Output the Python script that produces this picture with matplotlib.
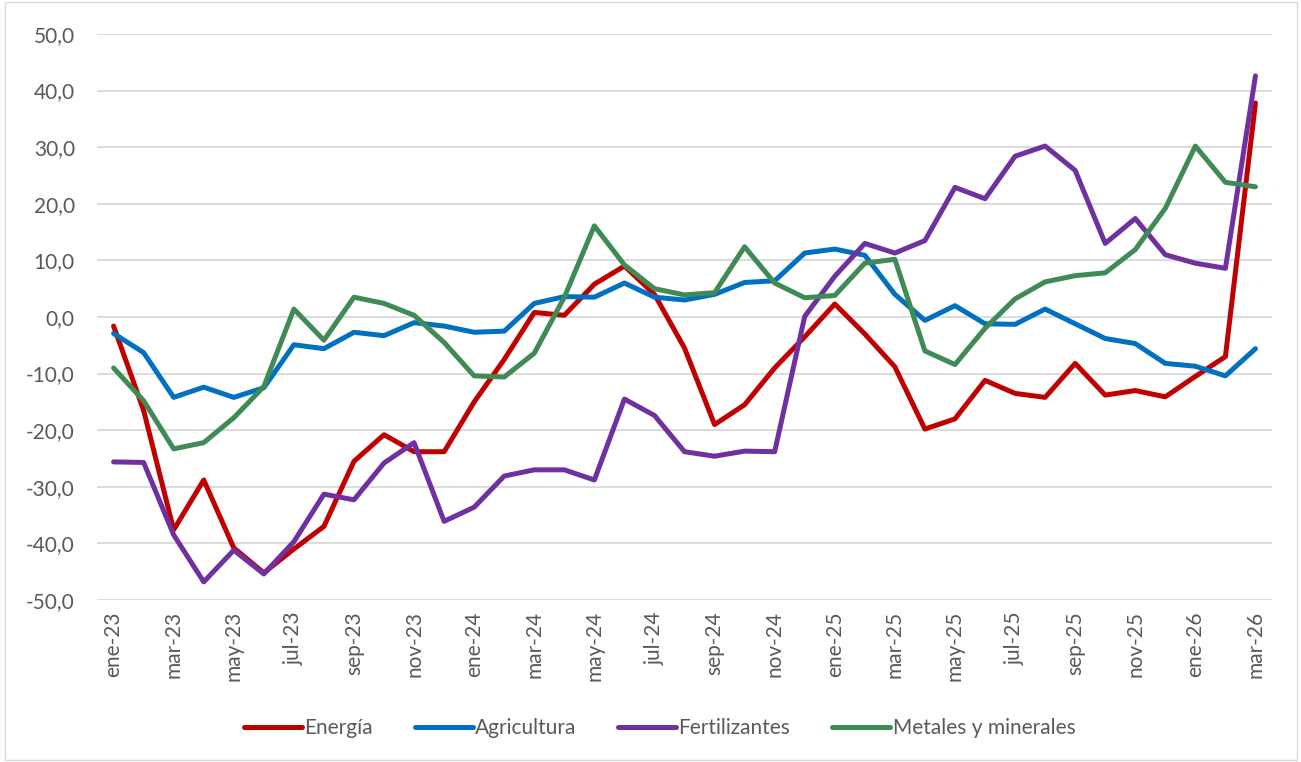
import matplotlib
matplotlib.use("Agg")
import matplotlib.pyplot as plt
from matplotlib.patches import Rectangle

meses = ["ene", "feb", "mar", "abr", "may", "jun", "jul", "ago", "sep", "oct", "nov", "dic"]
labels = [f"{m}-{y}" for y in ("23", "24", "25") for m in meses] + ["ene-26", "feb-26", "mar-26"]

energia = [-1.6, -16.5, -37.6, -28.8, -40.8, -45.2, -41.0, -37.0, -25.5, -20.8, -23.8, -23.8,
           -15.0, -7.5, 0.8, 0.3, 5.8, 9.0, 4.0, -5.5, -19.0, -15.5, -9.0, -3.5,
           2.3, -3.0, -8.8, -19.8, -18.0, -11.2, -13.5, -14.2, -8.2, -13.8, -13.0, -14.1,
           -10.5, -7.0, 37.8]
agricultura = [-2.9, -6.3, -14.2, -12.4, -14.2, -12.5, -4.9, -5.6, -2.7, -3.3, -1.0, -1.6,
               -2.7, -2.5, 2.4, 3.6, 3.5, 6.0, 3.5, 3.0, 4.0, 6.1, 6.4, 11.3,
               12.0, 10.9, 4.0, -0.6, 2.0, -1.2, -1.3, 1.4, -1.2, -3.8, -4.7, -8.2,
               -8.7, -10.4, -5.6]
fertilizantes = [-25.6, -25.7, -38.5, -46.8, -41.2, -45.4, -39.7, -31.3, -32.3, -25.8, -22.2, -36.1,
                 -33.6, -28.1, -27.0, -27.0, -28.8, -14.5, -17.4, -23.8, -24.6, -23.7, -23.8, 0.1,
                 7.2, 13.0, 11.3, 13.5, 22.9, 20.9, 28.4, 30.2, 25.9, 13.0, 17.4, 11.0,
                 9.5, 8.6, 42.6]
metales = [-9.0, -14.8, -23.3, -22.2, -17.8, -12.3, 1.4, -4.1, 3.5, 2.4, 0.3, -4.5,
           -10.4, -10.6, -6.4, 3.5, 16.1, 9.2, 5.0, 3.9, 4.3, 12.4, 6.0, 3.4,
           3.8, 9.5, 10.2, -6.0, -8.4, -2.0, 3.2, 6.2, 7.3, 7.8, 11.9, 19.2,
           30.2, 23.8, 23.0]

series = [("Energía", energia, "#C00000"),
          ("Agricultura", agricultura, "#0070C0"),
          ("Fertilizantes", fertilizantes, "#7030A0"),
          ("Metales y minerales", metales, "#3F8A55")]

plt.rcParams['font.family'] = ['Lato', 'DejaVu Sans']

fig = plt.figure(figsize=(13.01, 7.62), dpi=100)
ax = fig.add_axes([0.0746, 0.2126, 0.9031, 0.7428])

x = list(range(len(labels)))
for name, vals, color in series:
    ax.plot(x, vals, color=color, linewidth=3.6, label=name,
            solid_capstyle='round', solid_joinstyle='round')

ax.set_ylim(-50, 50)
ax.set_yticks(range(-50, 51, 10))
ax.set_yticklabels([f"{v:.1f}".replace(".", ",") for v in range(-50, 51, 10)])
ax.set_xlim(-0.55, len(labels) - 0.45)
ax.set_xticks(x[::2])
ax.set_xticklabels(labels[::2], rotation=90)
ax.grid(axis='y', color='#d9d9d9', linewidth=1.3)
ax.set_axisbelow(True)
for s in ax.spines.values():
    s.set_visible(False)
ax.tick_params(length=0, labelsize=15, colors='#595959', pad=8)
ax.tick_params(axis='y', pad=16)

leg = fig.legend(loc='center', bbox_to_anchor=(0.507, 0.044), ncol=4, frameon=False,
                 fontsize=15, handlelength=2.8, handletextpad=0.1, columnspacing=2.0)
for t in leg.get_texts():
    t.set_color('#595959')

fig.patches.append(Rectangle((0.004, 0.002), 0.993, 0.995, transform=fig.transFigure,
                             fill=False, edgecolor='#d9d9d9', linewidth=1))

fig.savefig("out.png", dpi=100)
